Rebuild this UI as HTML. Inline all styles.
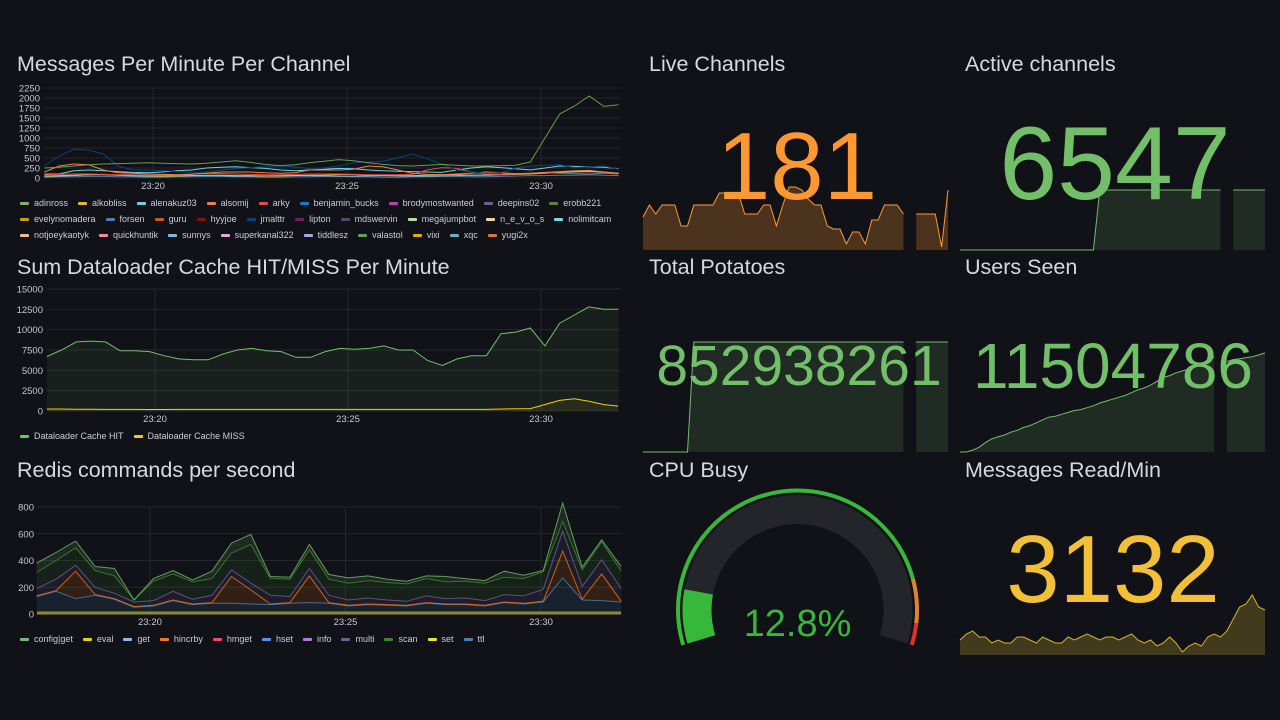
<!DOCTYPE html>
<html><head><meta charset="utf-8"><style>
html,body{margin:0;padding:0;background:#111217;width:1280px;height:720px;overflow:hidden;font-family:"Liberation Sans",sans-serif;}
svg{position:absolute;left:0;top:0}
.legend{position:absolute;display:flex;gap:10px;font-size:9px;color:#ccccdc;white-space:nowrap;align-items:center}
.li{display:flex;align-items:center;gap:5px}
.sw{width:9px;height:3px;border-radius:1px;display:inline-block}
</style></head><body>
<svg id="s" width="1280" height="720" xmlns="http://www.w3.org/2000/svg"></svg>
<div id="leg1a" class="legend" style="left:20px;top:198px"></div>
<div id="leg1b" class="legend" style="left:20px;top:214px"></div>
<div id="leg1c" class="legend" style="left:20px;top:230px"></div>
<div id="leg2" class="legend" style="left:20px;top:431px"></div>
<div id="leg3" class="legend" style="left:20px;top:634px"></div>
<script>
// ---------- DATA ----------
const chanNames=["adinross","alkobliss","alenakuz03","alsomij","arky","benjamin_bucks","brodymostwanted","deepins02","erobb221","evelynomadera","forsen","guru","hyyjoe","jmalttr","lipton","mdswervin","megajumpbot","n_e_v_o_s","nolimitcam","notjoeykaotyk","quickhuntik","sunnys","superkanal322","tiddlesz","valastol","vixi","xqc","yugi2x"];
const chanColors=["#7EB26D","#EAB839","#6ED0E0","#EF843C","#E24D42","#1F78C1","#BA43A9","#705DA0","#508642","#CCA300","#447EBC","#C15C17","#890F02","#0A437C","#6D1F62","#584477","#B7DBAB","#F4D598","#70DBED","#F9BA8F","#F29191","#82B5D8","#E5A8E2","#AEA2E0","#629E51","#E5AC0E","#64B0C8","#E0752D"];
const chanRows=[9,10,9];
const chanT0=17.2, chanT1=32.0;
const chanSeriesIdx=[24,13,3,4,1,2,26,10];
const chanSeries=[
[250,270,300,330,350,360,370,380,370,360,350,370,400,430,390,340,310,330,380,420,460,430,380,340,310,300,320,340,320,300,300,310,320,400,1000,1600,1800,2050,1790,1830],
[300,550,720,700,600,300,200,200,190,160,140,150,200,230,260,280,300,280,230,250,300,380,400,420,500,600,480,350,200,150,120,130,250,300,320,330,260,280,300,220],
[150,300,350,330,200,130,120,100,90,80,90,120,150,150,150,130,120,130,200,200,200,220,300,280,200,120,90,80,100,120,150,130,110,120,140,160,180,190,150,110],
[80,90,100,100,90,80,80,70,70,80,100,120,110,100,90,80,80,90,100,100,100,90,80,80,80,90,200,260,240,150,100,90,100,120,130,120,110,100,120,100],
[50,60,70,80,80,70,60,60,50,50,60,70,70,60,60,50,50,60,70,70,80,80,70,60,60,60,70,80,80,70,70,80,90,100,120,140,160,170,150,120],
[100,100,180,200,180,160,140,130,150,180,200,250,270,280,260,240,200,180,200,220,240,230,200,180,170,160,150,140,200,250,280,260,230,200,250,300,290,280,270,230],
[30,40,60,80,90,70,50,40,40,50,60,60,50,40,40,50,60,70,60,50,40,40,50,60,50,40,40,50,60,70,80,90,100,110,120,140,150,160,140,120],
[20,30,30,40,40,30,30,20,20,30,30,40,40,30,30,20,20,30,30,40,40,30,30,20,20,30,30,40,40,30,30,40,50,60,60,70,70,80,70,60]];
const chanTicks=[0,250,500,750,1000,1250,1500,1750,2000,2250];
const timeTicks=[20,25,30];
const timeLabels=["23:20","23:25","23:30"];

const cacheNames=["Dataloader Cache HIT","Dataloader Cache MISS"];
const cacheColors=["#73BF69","#F2CC0C"];
const cacheHit=[6700,7500,8500,8600,8500,7400,7400,7300,6800,6400,6300,6300,7000,7500,7700,7400,7300,6600,6600,7300,7700,7600,7700,8000,7500,7500,6200,5600,6400,6800,6800,9500,9700,10200,8000,10800,11800,12800,12500,12500];
const cacheMiss=[250,250,220,220,200,200,200,180,180,200,200,200,200,200,200,200,200,200,200,200,200,200,200,200,200,200,200,200,200,200,200,250,280,300,800,1300,1500,1200,800,600];
const cacheTicks=[0,2500,5000,7500,10000,12500,15000];

const redisNames=["config|get","eval","get","hincrby","hmget","hset","info","multi","scan","set","ttl"];
const redisColors=["#73BF69","#F2CC0C","#8AB8FF","#FF780A","#F2495C","#5794F2","#B877D9","#705DA0","#37872D","#FADE2A","#447EBC"];
const redisT0=17.1, redisT1=32.05;
const rTtl=[130,170,115,140,110,50,60,100,70,80,80,75,70,80,85,80,60,70,65,60,80,70,70,60,85,75,90,270,105,100,90];
const rHincrby=[5,5,205,5,5,5,5,5,5,5,200,105,5,5,200,5,5,5,5,5,5,5,5,5,5,5,5,200,5,200,5];
const rMulti=[55,85,45,55,40,35,35,65,35,55,50,50,65,45,55,55,40,45,35,30,50,40,45,35,55,55,90,150,95,105,95];
const rScan=[120,140,130,125,130,15,145,130,130,125,125,290,125,130,140,120,125,130,130,130,130,125,125,130,130,130,130,70,125,135,130];
const rConfig=[70,60,50,30,55,0,20,25,15,55,75,75,15,15,40,35,40,35,25,20,20,40,20,20,45,25,10,140,20,15,35];
const redisTicks=[0,200,400,600,800];

const liveChannels=[181,185,182,185,185,185,178,178,185,185,185,185,189,189,189,189,182,182,182,185,185,178,185,191,191,190,187,185,185,178,177,177,172,176,176,172,180,180,185,185,185,182,null,182,182,182,182,171,190];
const activeChannels=[0,0,0,0,0,0,0,0,0,0,0,0,0,0,0,0,0,0,0,0,0,0,6547,6547,6547,6547,6547,6547,6547,6547,6547,6547,6547,6547,6547,6547,6547,6547,6547,6547,6547,6547,null,6547,6547,6547,6547,6547,6547];
const totalPotatoes=[0,0,0,0,0,0,0,0,852938261,852938261,852938261,852938261,852938261,852938261,852938261,852938261,852938261,852938261,852938261,852938261,852938261,852938261,852938261,852938261,852938261,852938261,852938261,852938261,852938261,852938261,852938261,852938261,852938261,852938261,852938261,852938261,852938261,852938261,852938261,852938261,852938261,852938261,null,852938261,852938261,852938261,852938261,852938261,852938261];
const usersSeenK=[11400,11400,11402,11405,11410,11414,11416,11418,11421,11423,11426,11428,11431,11434,11437,11438,11440,11442,11444,11445,11447,11449,11452,11454,11456,11458,11460,11463,11466,11468,11471,11475,11479,11481,11484,11486,11488,11490,11494,11497,11501,null,11496,11498,11499,11500,11501,11503,11505];
const msgsRead=[950,1330,1520,1140,1140,760,950,760,760,1140,1140,950,760,1140,950,760,760,1140,950,1140,1330,1140,950,1140,1140,950,1140,1330,950,760,950,570,760,1140,760,190,570,760,570,1140,1330,1140,1520,2280,3040,3230,3800,3040,2850];
const cpuBusy=12.8;

// ---------- HELPERS ----------
const S=document.getElementById('s');
const NS="http://www.w3.org/2000/svg";
function mk(tag,attrs,parent){const e=document.createElementNS(NS,tag);for(const k in attrs)e.setAttribute(k,attrs[k]);(parent||S).appendChild(e);return e;}
function txt(x,y,str,size,color,anchor,parent){const t=mk('text',{x:x,y:y,'font-size':size,fill:color,'text-anchor':anchor||'start','font-family':'Liberation Sans, sans-serif'},parent);t.textContent=str;return t;}

function axes(name,x0,x1,y0,y1,ticks,vmax,labelX,tx){
  const g=mk('g',{});
  
  
  ticks.forEach(v=>{const y=y0-(v/vmax)*(y0-y1);
    mk('line',{x1:x0,x2:x1,y1:y,y2:y,stroke:'#24262c','stroke-width':1},g);
    const t=txt(labelX,y+3.5,String(v),9.5,'#c7c7d1','end',g);
    
    
  });
  timeTicks.forEach((tt,i)=>{const x=tx(tt);
    mk('line',{x1:x,x2:x,y1:y1,y2:y0,stroke:'#24262c','stroke-width':1},g);
    const t=txt(x,y0+11,timeLabels[i],9.5,'#c7c7d1','middle',g);
    
    
  });
}
function title(x,y,str,name){const t=txt(x,y,str,21.5,'#d8d9e0','start');
  
  }

function linePath(vals,xf,yf){let d='';let pen=false;vals.forEach((v,i)=>{if(v===null){pen=false;return;}d+=(pen?'L':'M')+xf(i).toFixed(1)+' '+yf(v).toFixed(1)+' ';pen=true;});return d;}
function areaPaths(vals,xf,yf,base){const out=[];let seg=[];vals.forEach((v,i)=>{if(v===null){if(seg.length)out.push(seg);seg=[];return;}seg.push([xf(i),yf(v)]);});if(seg.length)out.push(seg);
  return out.map(s=>'M'+s[0][0]+' '+base+' '+s.map(p=>'L'+p[0].toFixed(1)+' '+p[1].toFixed(1)).join(' ')+' L'+s[s.length-1][0]+' '+base+' Z');}

// ---------- CHART 1 ----------
title(17,71,"Messages Per Minute Per Channel","chart-title-messages");
(function(){
  const x0=44,x1=620,yb=178,yt=88,vmax=2250;
  const tx=t=>153+(t-20)*38.8;
  axes('messages',x0,x1,yb,yt,chanTicks,vmax,40,tx);
  const n=chanSeries[0].length;
  const xf=i=>tx(chanT0+(chanT1-chanT0)*i/(n-1));
  const yf=v=>yb-(v/vmax)*(yb-yt);
  for(let k=chanSeries.length-1;k>=0;k--){
    const p=mk('path',{d:linePath(chanSeries[k],xf,yf),fill:'none',stroke:chanColors[chanSeriesIdx[k]],'stroke-width':1});
    
    
  }
})();

// ---------- CHART 2 ----------
title(17,274,"Sum Dataloader Cache HIT/MISS Per Minute","chart-title-cache");
(function(){
  const x0=47,x1=620,yb=411,yt=289,vmax=15000;
  const tx=t=>155+(t-20)*38.6;
  axes('cache',x0,x1,yb,yt,cacheTicks,vmax,43,tx);
  const n=cacheHit.length;
  const xf=i=>tx(17.2+14.8*i/(n-1));
  const yf=v=>yb-(v/vmax)*(yb-yt);
  [[cacheHit,0],[cacheMiss,1]].forEach(([vals,k])=>{
    areaPaths(vals,xf,yf,yb).forEach(d=>{const a=mk('path',{d:d,fill:cacheColors[k],'fill-opacity':0.08});
      
      });
    const p=mk('path',{d:linePath(vals,xf,yf),fill:'none',stroke:cacheColors[k],'stroke-width':1});
    
    
  });
})();

// ---------- CHART 3 ----------
title(17,477,"Redis commands per second","chart-title-redis");
(function(){
  const x0=37,x1=621,yb=614,yt=507,vmax=800;
  const tx=t=>150+(t-20)*39.1;
  axes('redis',x0,x1,yb,yt,redisTicks,vmax,34,tx);
  const n=rTtl.length;
  const xf=i=>tx(redisT0+(redisT1-redisT0)*i/(n-1));
  const yf=v=>yb-(v/vmax)*(yb-yt);
  const layers=[[rTtl,10],[rHincrby,3],[rMulti,7],[rScan,8],[rConfig,0]];
  let cum=new Array(n).fill(0);
  layers.forEach(([vals,k])=>{
    const lo=cum.slice();const hi=cum.map((c,i)=>c+vals[i]);
    let d='M'+xf(0)+' '+yf(hi[0]);
    for(let i=1;i<n;i++)d+=' L'+xf(i).toFixed(1)+' '+yf(hi[i]).toFixed(1);
    for(let i=n-1;i>=0;i--)d+=' L'+xf(i).toFixed(1)+' '+yf(lo[i]).toFixed(1);
    d+=' Z';
    const a=mk('path',{d:d,fill:redisColors[k],'fill-opacity':0.14});
    
    
    const p=mk('path',{d:linePath(hi,xf,yf),fill:'none',stroke:redisColors[k],'stroke-width':1,'stroke-opacity':0.8});
    
    
    cum=hi;
  });
  const base=mk('line',{x1:x0,x2:x1,y1:yb-1,y2:yb-1,stroke:'#8a8a3a','stroke-width':3});
  
  
})();

// ---------- LEGENDS ----------
function legendItem(parentId,name,color){
  const d=document.createElement('div');d.className='li';
  
  
  const sw=document.createElement('span');sw.className='sw';sw.style.background=color;d.appendChild(sw);
  const t=document.createElement('span');t.textContent=name;d.appendChild(t);
  document.getElementById(parentId).appendChild(d);
}
let ci=0;['leg1a','leg1b','leg1c'].forEach((id,r)=>{for(let j=0;j<chanRows[r];j++){legendItem(id,chanNames[ci],chanColors[ci]);ci++;}});
cacheNames.forEach((nm,k)=>legendItem('leg2',nm,cacheColors[k]));
redisNames.forEach((nm,k)=>legendItem('leg3',nm,redisColors[k]));

// ---------- STAT PANELS ----------
function spark(vals,x0,x1,yb,yt,vmin,vmax,color,fop,name){
  const n=vals.length;const xf=i=>x0+(x1-x0)*i/(n-1);const yf=v=>yb-((v-vmin)/(vmax-vmin))*(yb-yt);
  areaPaths(vals,xf,yf,yb).forEach(d=>{const a=mk('path',{d:d,fill:color,'fill-opacity':fop});
    
    });
  const p=mk('path',{d:linePath(vals,xf,yf),fill:'none',stroke:color,'stroke-width':1});
  
  
}
function bigNum(x,y,str,size,color,name){const t=txt(x,y,str,size,color,'middle');
  
  }

title(649,71,"Live Channels","title-live-channels");
spark(liveChannels,643,948,250,187,170,191,'#FF9830',0.25,'live-channels');
bigNum(797,199,String(liveChannels[0]),96,'#FF9830','value-live-channels');

title(965,71,"Active channels","title-active-channels");
spark(activeChannels,960,1265,250,190,0,6547,'#73BF69',0.15,'active-channels');
bigNum(1115,199,"6547",104,'#73BF69','value-active-channels');

title(649,274,"Total Potatoes","title-total-potatoes");
spark(totalPotatoes,643,948,452,342,0,852938261,'#73BF69',0.15,'total-potatoes');
bigNum(799,385,"852938261",57,'#73BF69','value-total-potatoes');

title(965,274,"Users Seen","title-users-seen");
spark(usersSeenK,960,1265,452,353,11400,11505,'#73BF69',0.15,'users-seen');
bigNum(1113,388,"11504786",64,'#73BF69','value-users-seen');

title(649,477,"CPU Busy","title-cpu-busy");
title(965,477,"Messages Read/Min","title-messages-read");
spark(msgsRead,960,1265,655,595,0,3800,'#D4B32A',0.25,'messages-read');
bigNum(1113,602,"3132",96,'#F2C037','value-messages-read');

// ---------- GAUGE ----------
(function(){
  const cx=797.5,cy=610;
  const startA=197,span=214;
  function pt(r,a){const rad=a*Math.PI/180;return [cx+r*Math.cos(rad),cy-r*Math.sin(rad)];}
  function arc(r1,r2,a1,a2){const p1=pt(r2,a1),p2=pt(r2,a2),p3=pt(r1,a2),p4=pt(r1,a1);const large=(a1-a2)>180?1:0;
    return `M${p1[0]} ${p1[1]} A${r2} ${r2} 0 ${large} 1 ${p2[0]} ${p2[1]} L${p3[0]} ${p3[1]} A${r1} ${r1} 0 ${large} 0 ${p4[0]} ${p4[1]} Z`;}
  const A=pct=>startA-span*pct/100;
  const bg=mk('path',{d:arc(86,115,A(0),A(100)),fill:'#23252b'});
  
  
  const val=mk('path',{d:arc(86,115,A(0),A(cpuBusy)),fill:'#37B83A'});
  
  
  [[0,85,'#37B83A'],[85,95,'#E0852D'],[95,100,'#E0302F']].forEach(([a,b,c])=>{
    const r=mk('path',{d:arc(117.5,121.5,A(a),A(b)),fill:c});
    
    
  });
  bigNum(cx,636,cpuBusy.toFixed(1)+"%",38,'#37B83A','value-cpu-busy');
})();
</script>
</body></html>
